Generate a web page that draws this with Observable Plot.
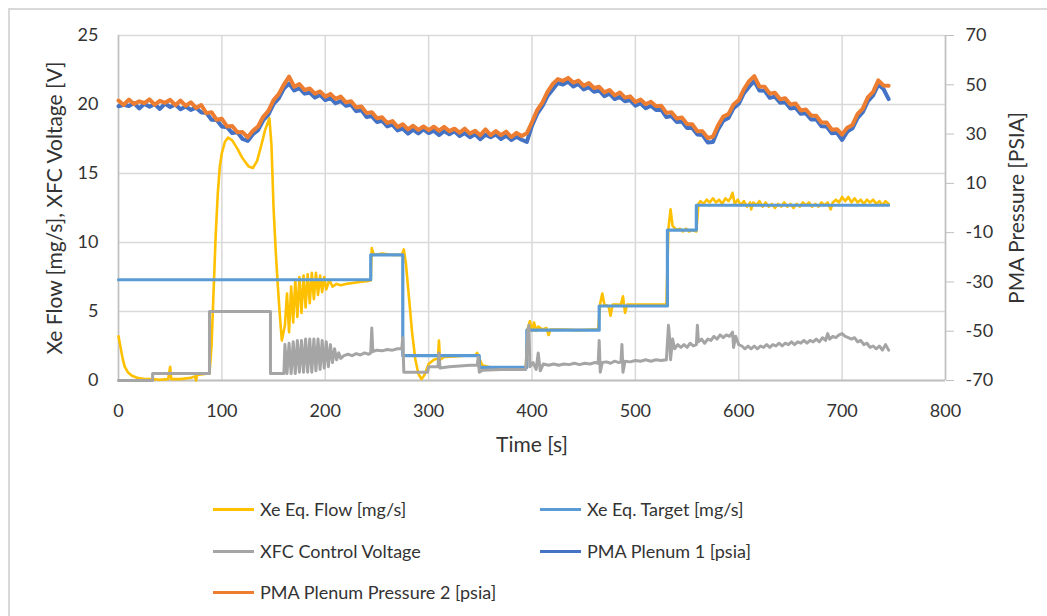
<!DOCTYPE html>
<html>
<head>
<meta charset="utf-8">
<script src="https://cdn.jsdelivr.net/npm/d3@7"></script>
<script src="https://cdn.jsdelivr.net/npm/@observablehq/plot@0.6"></script>
<style>
  html, body { margin: 0; padding: 0; background: #fff; overflow: hidden; }
  #wrap { position: relative; width: 1047px; height: 616px; font-family: Lato, "Open Sans", sans-serif; color: #333; }
  #frame { position: absolute; left: 8px; top: 8px; width: 1100px; height: 700px; border: 2px solid #d9d9d9; box-sizing: border-box; }
  #chart { position: absolute; left: 0; top: 0; }
  .lg { position: absolute; display: flex; align-items: center; font-size: 18px; white-space: nowrap; }
  .lg .sw { width: 41px; height: 3px; margin-right: 6px; }
</style>
</head>
<body>
<div id="wrap">
  <div id="frame"></div>
  <div id="chart"></div>
  <div id="legend"></div>
</div>
<script>
// ---------- data ----------
const xTicks = [0, 100, 200, 300, 400, 500, 600, 700, 800];
const yTicks = [0, 5, 10, 15, 20, 25];
const pressureTicks = [-70, -50, -30, -10, 10, 30, 50, 70];

const seriesNames = ["Xe Eq. Flow [mg/s]", "Xe Eq. Target [mg/s]", "XFC Control Voltage", "PMA Plenum 1 [psia]", "PMA Plenum Pressure 2 [psia]"];
const seriesColors = ["#FFC000", "#5B9BD5", "#A5A5A5", "#4472C4", "#ED7D31"];

// [time s, mg/s]
const flowSeries = [[0,3.2],[2,2.4],[4,1.6],[6,1.0],[9,0.6],[13,0.35],[18,0.2],[25,0.1],[33,0.1],[40,0.05],[48,0.1],[50,1.0],[51,0.1],[60,0.1],[70,0.2],[74,0.3],[75,0.0],[76,0.4],[85,0.5],[88,0.5],
  [90,2.5],[92,6.5],[94,10.5],[96,13.5],[98,15.5],[100,16.5],[103,17.3],[106,17.6],[110,17.4],[115,16.8],[120,16.1],[126,15.5],[130,15.4],[134,15.9],[138,17.0],[142,18.2],[146,19.0],[148,17.0],[150,12.5],[152,9.5],[154,7.0],[156,4.8],[158,2.9],
  [161,4.0],[163,6.3],[165,3.5],[167,6.8],[169,4.2],[171,7.3],[173,4.6],[175,7.5],[177,4.9],[179,7.6],[181,5.3],[183,7.7],[185,5.6],[187,7.8],[189,5.9],[191,7.8],[193,6.2],[195,7.6],[197,6.4],[199,7.5],[201,6.6],[204,7.3],[207,6.8],[211,7.0],[215,6.9],[220,7.0],[225,7.05],[230,7.1],[235,7.15],[240,7.2],[244,7.25],
  [245,9.6],[247,9.1],[255,9.2],[265,9.1],[274,9.1],[276,9.5],[278,8.5],[281,6.0],[284,3.5],[287,1.6],[290,0.5],[293,0.1],[296,0.4],[300,1.2],[305,1.5],[309,1.6],[310,2.9],[311,1.5],[315,1.7],[325,1.75],[335,1.8],[345,1.8],[347,2.0],[349,1.6],[352,1.1],[360,0.95],[370,0.9],[380,0.95],[394,0.9],
  [396,3.8],[398,4.3],[400,3.6],[402,4.2],[404,3.6],[406,3.9],[410,3.7],[414,3.8],[416,3.3],[418,3.7],[430,3.7],[445,3.65],[460,3.7],[464,3.7],
  [466,5.6],[468,6.3],[470,5.5],[474,5.4],[476,4.7],[478,5.5],[486,5.5],[488,6.1],[490,4.9],[492,5.5],[510,5.5],[530,5.5],
  [532,11.0],[534,12.4],[536,11.2],[540,10.9],[543,11.0],[546,10.8],[549,11.0],[552,10.8],[555,10.9],[559,10.8],
  [561,12.8],[563,13.0],[566,12.8],[569,13.1],[572,12.9],[575,13.2],[578,12.9],[581,13.1],[584,12.8],[587,13.2],[590,13.0],[592,13.2],[594,13.6],[596,12.8],[599,13.1],[602,12.7],[605,13.0],[608,12.6],[611,12.9],[612,12.4],[614,12.9],[617,12.7],[620,13.0],[623,12.6],[626,12.9],[629,12.6],[632,12.8],[635,12.5],[638,12.8],[641,12.6],[644,12.9],[647,12.6],[650,12.8],[653,12.5],[656,12.8],[659,12.6],[662,12.9],[665,12.7],[668,12.9],[671,12.6],[674,12.8],[677,12.6],[680,12.9],[683,12.7],[686,12.9],[689,12.4],[691,12.9],[694,13.1],[697,12.9],[700,13.3],[703,13.0],[706,13.3],[709,12.9],[712,13.2],[715,12.9],[718,13.1],[721,12.8],[724,13.1],[727,12.9],[730,13.1],[733,12.8],[736,13.0],[739,12.7],[742,13.0],[745,12.8]];

// [step start s, mg/s]
const targetSeries = [[0,7.3],[244,9.1],[275,1.8],[349,0.95],[395,3.65],[465,5.4],[531,10.9],[559,12.7],[745,12.7]];

// [time s, V]
const voltageSeries = [[0,0],[33,0],[33,0.5],[88,0.5],[88,5.0],[147,5.0],[147,0.5],[160,0.5],
  [161,2.6],[163,0.5],[165,2.7],[167,0.5],[169,2.8],[171,0.5],[173,2.9],[175,0.6],[177,2.9],[179,0.6],[181,3.0],[183,0.6],[185,3.0],[187,0.6],[189,3.0],[191,0.7],[193,3.0],[195,0.8],[197,2.9],[199,0.9],[201,2.8],[203,1.0],[205,2.6],[207,1.3],[209,2.3],[211,1.5],[213,2.0],[215,1.6],
  [218,1.8],[222,1.9],[226,1.8],[230,1.95],[234,1.85],[238,2.0],[242,1.9],[244,2.0],[245,3.8],[246,2.1],[250,2.2],[255,2.15],[260,2.25],[265,2.2],[270,2.3],[274,2.3],[275,3.1],[276,0.6],[299,0.6],[300,1.0],[309,1.0],[310,2.0],[311,0.9],[320,1.0],[330,1.05],[340,1.1],[347,1.1],[348,1.7],[349,0.6],[352,0.75],[370,0.8],[394,0.8],
  [396,3.6],[397,4.0],[398,1.0],[401,1.3],[404,0.8],[406,2.0],[408,0.7],[411,1.2],[416,1.1],[421,1.2],[426,1.1],[431,1.2],[436,1.15],[441,1.25],[446,1.15],[451,1.25],[456,1.2],[461,1.3],[464,1.25],
  [465,2.9],[466,0.6],[468,1.3],[472,1.35],[476,1.25],[480,1.4],[484,1.3],[486,1.35],[487,2.6],[488,0.6],[490,1.4],[495,1.35],[500,1.45],[505,1.4],[510,1.5],[515,1.4],[520,1.5],[525,1.45],[530,1.5],
  [532,4.0],[533,3.2],[534,1.5],[536,3.0],[538,2.3],[541,2.6],[544,2.4],[547,2.6],[550,2.4],[553,2.7],[556,2.5],[559,2.6],[560,4.0],[561,2.8],[564,3.0],[567,2.7],[570,3.0],[573,2.9],[576,3.2],[579,3.0],[582,3.3],[585,3.1],[588,3.3],[591,3.2],[594,3.5],[595,2.4],[597,3.2],
  [600,2.6],[603,2.5],[606,2.3],[609,2.5],[612,2.3],[615,2.5],[618,2.3],[621,2.5],[624,2.4],[627,2.6],[630,2.4],[633,2.6],[636,2.5],[639,2.7],[642,2.5],[645,2.7],[648,2.6],[651,2.8],[654,2.6],[657,2.8],[660,2.7],[663,2.9],[666,2.7],[669,2.9],[672,2.8],[675,3.0],[678,2.8],[681,3.1],[684,2.9],[686,3.4],[688,3.0],[691,3.2],[694,3.1],[697,3.3],[700,3.4],[703,3.2],[706,3.1],[709,3.0],[712,3.1],[715,2.8],[718,2.9],[721,2.6],[724,2.7],[727,2.4],[730,2.5],[733,2.3],[736,2.5],[739,2.2],[742,2.6],[745,2.2]];

const pressureTime = [0,5,10,15,20,25,30,35,40,45,50,55,60,65,70,75,80,85,90,95,100,105,110,115,120,125,130,135,140,145,150,155,160,165,170,175,180,185,190,195,200,205,210,215,220,225,230,235,240,245,250,255,260,265,270,275,280,285,290,295,300,305,310,315,320,325,330,335,340,345,350,355,360,365,370,375,380,385,390,395,400,405,410,415,420,425,430,435,440,445,450,455,460,465,470,475,480,485,490,495,500,505,510,515,520,525,530,535,540,545,550,555,560,565,570,575,580,585,590,595,600,605,610,615,620,625,630,635,640,645,650,655,660,665,670,675,680,685,690,695,700,705,710,715,720,725,730,735,740,745];
// psia
const plenum1 = [41.3,41.9,41.4,42.6,40.4,42.3,41.1,42.2,40.2,42.4,41.0,42.0,40.1,41.2,39.8,40.7,38.8,38.6,35.8,35.7,33.1,32.8,30.4,30.7,28.0,27.2,29.9,31.6,35.6,37.9,42.2,44.5,48.5,50.5,47.7,48.6,46.4,46.8,44.8,45.9,43.8,44.7,42.5,43.4,41.5,41.9,39.3,39.7,36.9,37.3,34.9,35.4,33.1,33.8,31.5,32.2,30.2,31.8,30.3,31.9,30.4,31.4,29.6,31.2,29.9,31.1,29.2,30.4,28.7,29.9,27.9,29.7,28.7,29.8,28.0,29.4,27.6,28.9,27.7,26.8,33.4,38.2,41.3,45.4,48.1,50.7,50.1,51.2,49.3,50.3,48.1,49.0,47.2,47.7,45.4,46.4,44.2,45.1,43.3,43.8,41.5,42.5,40.5,41.5,39.8,39.9,36.9,37.3,34.9,35.1,32.5,32.5,29.8,29.6,26.6,26.8,31.9,35.4,36.5,40.5,42.3,46.6,49.2,51.5,47.7,47.6,44.7,45.2,42.7,42.9,40.4,40.7,38.2,38.4,35.9,36.0,33.2,33.1,30.3,30.5,27.6,31.0,32.3,36.6,38.9,43.4,45.7,50.1,48.3,44.2];
const plenum2 = [43.6,41.8,44.0,42.2,43.3,42.6,44.1,41.9,43.5,42.7,43.9,41.7,43.6,41.4,42.9,40.6,41.8,38.5,38.9,35.8,36.2,33.1,33.3,30.7,30.8,28.7,31.3,33.1,37.0,39.4,43.8,46.2,50.1,53.3,49.2,50.3,47.9,48.5,46.4,47.3,45.2,46.3,44.3,45.2,42.9,43.3,40.8,41.2,38.5,38.9,36.4,36.8,34.5,35.3,32.9,34.0,31.9,33.4,31.7,33.1,31.6,33.0,31.4,32.9,31.2,32.2,30.6,32.2,30.2,31.3,29.5,31.9,29.6,31.2,29.6,31.0,28.8,30.5,29.2,30.3,34.9,39.7,42.8,47.1,50.3,52.3,51.6,52.8,50.9,51.7,49.6,50.7,48.7,49.2,46.9,47.9,45.7,46.9,44.8,45.3,43.0,44.0,42.1,43.1,41.3,41.5,38.6,38.9,36.3,36.7,34.1,34.0,31.1,31.1,28.4,28.9,33.6,37.1,38.1,42.0,43.8,48.2,51.5,53.5,49.3,49.2,46.4,46.8,44.1,44.5,42.0,42.4,39.6,40.0,37.5,37.4,34.7,34.7,31.8,32.0,29.8,32.6,33.7,38.2,40.3,45.0,47.1,51.8,49.7,49.6];

// ---------- build ----------
const fromPairs = arr => arr.map(([t, v]) => ({t, v}));
const flow = fromPairs(flowSeries);
const target = fromPairs(targetSeries);
const volt = fromPairs(voltageSeries);
const p1 = pressureTime.map((t, i) => ({t, v: plenum1[i]}));
const p2 = pressureTime.map((t, i) => ({t, v: plenum2[i]}));

// secondary (pressure) axis: -70..70 psia mapped onto 0..25 of the primary scale
const pMin = -70, pMax = 70, yMax = 25;
const toPrimary = p => (p - pMin) / (pMax - pMin) * yMax;
const fromPrimary = y => y / yMax * (pMax - pMin) + pMin;

const chart = Plot.plot({
  width: 1047,
  height: 470,
  marginLeft: 118,
  marginRight: 102,
  marginTop: 35,
  marginBottom: 90,
  x: {domain: [0, 800]},
  y: {domain: [0, 25]},
  style: {fontFamily: "Lato, 'Open Sans', sans-serif", fontSize: "18px", color: "#333", background: "transparent"},
  marks: [
    Plot.gridX(xTicks, {stroke: "#d9d9d9", strokeOpacity: 1, strokeWidth: 1.5}),
    Plot.gridY(yTicks, {stroke: "#d9d9d9", strokeOpacity: 1, strokeWidth: 1.5}),
    Plot.ruleX([0], {stroke: "#bfbfbf", strokeWidth: 1.5}),
    Plot.ruleX([800], {stroke: "#bfbfbf", strokeWidth: 1.5}),
    Plot.ruleY([0], {stroke: "#bfbfbf", strokeWidth: 2}),
    Plot.line(flow, {x: "t", y: "v", stroke: seriesColors[0], strokeWidth: 2.6}),
    Plot.line(target, {x: "t", y: "v", stroke: seriesColors[1], strokeWidth: 3.2, curve: "step-after"}),
    Plot.line(volt, {x: "t", y: "v", stroke: seriesColors[2], strokeWidth: 3}),
    Plot.line(p1, {x: "t", y: d => toPrimary(d.v), stroke: seriesColors[3], strokeWidth: 4}),
    Plot.line(p2, {x: "t", y: d => toPrimary(d.v), stroke: seriesColors[4], strokeWidth: 4}),
    Plot.axisX(xTicks, {tickSize: 0, tickPadding: 24, label: null, fill: "#333"}),
    Plot.axisY(yTicks, {anchor: "left", tickSize: 0, tickPadding: 20, label: null, fill: "#333"}),
    Plot.axisY(pressureTicks.map(toPrimary), {anchor: "right", tickSize: 8, tickPadding: 12, stroke: "#bfbfbf", fill: "#333", label: null,
      tickFormat: d => String(Math.round(fromPrimary(d)))}),
    Plot.text(["Time [s]"], {frameAnchor: "bottom", dy: 65, lineAnchor: "middle", fontSize: 21, fill: "#333"}),
    Plot.text(["Xe Flow [mg/s], XFC Voltage [V]"], {frameAnchor: "left", dx: -63, rotate: -90, textAnchor: "middle", lineAnchor: "middle", fontSize: 21, fill: "#333"}),
    Plot.text(["PMA Pressure [PSIA]"], {frameAnchor: "right", dx: 72, rotate: -90, textAnchor: "middle", lineAnchor: "middle", fontSize: 21, fill: "#333"})
  ]
});
document.getElementById("chart").appendChild(chart);

// ---------- legend ----------
const legendPos = [[213, 509], [540, 509], [213, 551], [540, 551], [213, 592]];
const legend = document.getElementById("legend");
seriesNames.forEach((name, i) => {
  const el = document.createElement("div");
  el.className = "lg";
  el.style.left = legendPos[i][0] + "px";
  el.style.top = (legendPos[i][1] - 12) + "px";
  el.style.height = "24px";
  const sw = document.createElement("span");
  sw.className = "sw";
  sw.style.background = seriesColors[i];
  const tx = document.createElement("span");
  tx.textContent = name;
  el.appendChild(sw);
  el.appendChild(tx);
  legend.appendChild(el);
});
</script>
</body>
</html>
